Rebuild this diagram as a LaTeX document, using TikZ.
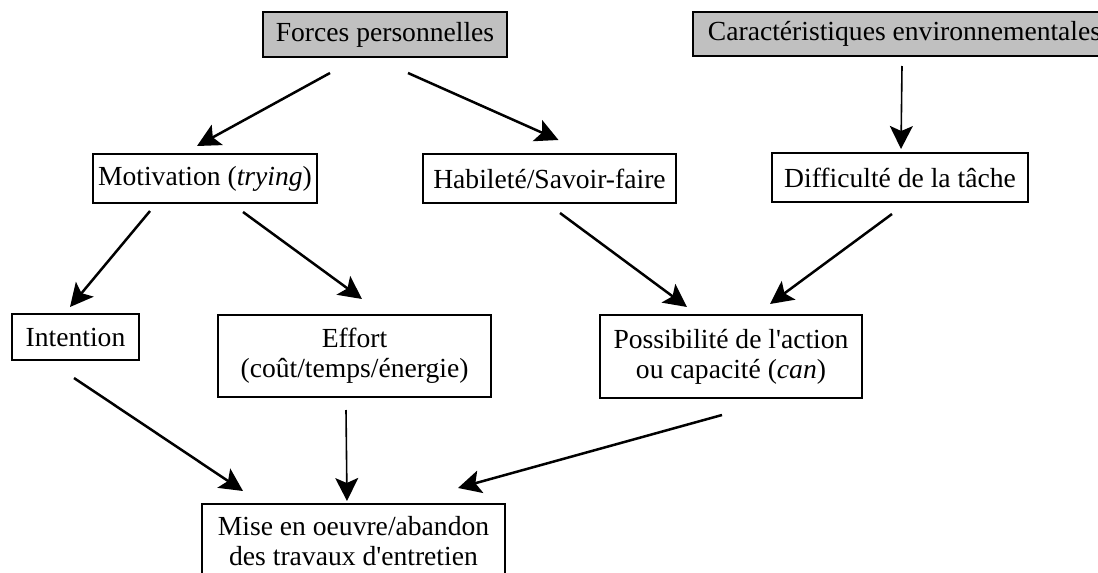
\documentclass[tikz,border=0pt]{standalone}
\usepackage{fontspec}
\setmainfont{Liberation Serif}
\usetikzlibrary{arrows.meta,calc}
\definecolor{boxgrey}{RGB}{192,192,192}

\begin{document}
\begin{tikzpicture}[x=0.5pt,y=-0.5pt,
    box/.style={draw,line width=1pt,inner sep=2pt,align=center,font=\fontsize{13.8}{15}\selectfont},
    shaded/.style={box,fill=boxgrey},
    link/.style={-{Stealth[length=11.5pt,width=11.5pt,inset=2.5pt]},line width=1.25pt},
    thin link/.style={link,line width=0.8pt}]
    \useasboundingbox (0,0) rectangle (1098,573);
    \clip (0,0) rectangle (1098,573);
    % top row
    \path (385,34.5) node[shaded,minimum width=122pt,minimum height=22.5pt] (forces) {Forces personnelles};
    \path (692,34) node[shaded,anchor=west,minimum width=211.5pt,minimum height=22pt] (caract) {Caractéristiques environnementales};
    % middle row
    \path (205,178.5) node[box,minimum width=112pt,minimum height=24.5pt] (motiv) {Motivation (\textit{trying})};
    \path (549.5,178.5) node[box,minimum width=126.5pt,minimum height=24.5pt] (habil) {Habileté/Savoir-faire};
    \path (900,177.5) node[box,minimum width=128pt,minimum height=24.5pt] (diffic) {Difficulté de la tâche};
    % third row
    \path (75.5,337) node[box,minimum width=63.5pt,minimum height=23pt] (intent) {Intention};
    \path (354.5,356) node[box,minimum width=136.5pt,minimum height=41pt] (effort) {Effort\\(coût/temps/énergie)};
    \path (731,356.5) node[box,minimum width=131pt,minimum height=41.5pt] (possib) {Possibilité de l\textquotesingle action\\ou capacité (\textit{can})};
    % bottom
    \path (353.5,541) node[box,minimum width=151.5pt,minimum height=37pt] (mise) {Mise en oeuvre/abandon\\des travaux d\textquotesingle entretien};

    \draw[link] ($(forces.south)+(-55,15)$) -- ($(motiv.north)+(-8,-7)$);
    \draw[link] ($(forces.south)+(23,15)$) -- ($(habil.north)+(9,-13)$);
    \draw[thin link] ($(caract.south)+(-2.5,9)$) -- ($(diffic.north)+(1,-3)$);
    \draw[link] ($(motiv.south)+(-55,7)$) -- ($(intent.north)+(-5.5,-6)$);
    \draw[link] ($(motiv.south)+(38,8)$) -- ($(effort.north)+(7.5,-15)$);
    \draw[link] ($(habil.south)+(10.5,9)$) -- ($(possib.north)+(-44,-7)$);
    \draw[link] ($(diffic.south)+(-8,11)$) -- ($(possib.north)+(39,-10)$);
    \draw[link] ($(intent.south)+(-1.5,17)$) -- ($(mise.north)+(-110.5,-12)$);
    \draw[thin link] ($(effort.south)+(-8.5,12)$) -- ($(mise.north)+(-6.5,-2)$);
    \draw[link] ($(possib.south)+(-9,16)$) -- ($(mise.north)+(104.5,-15)$);
\end{tikzpicture}
\end{document}
